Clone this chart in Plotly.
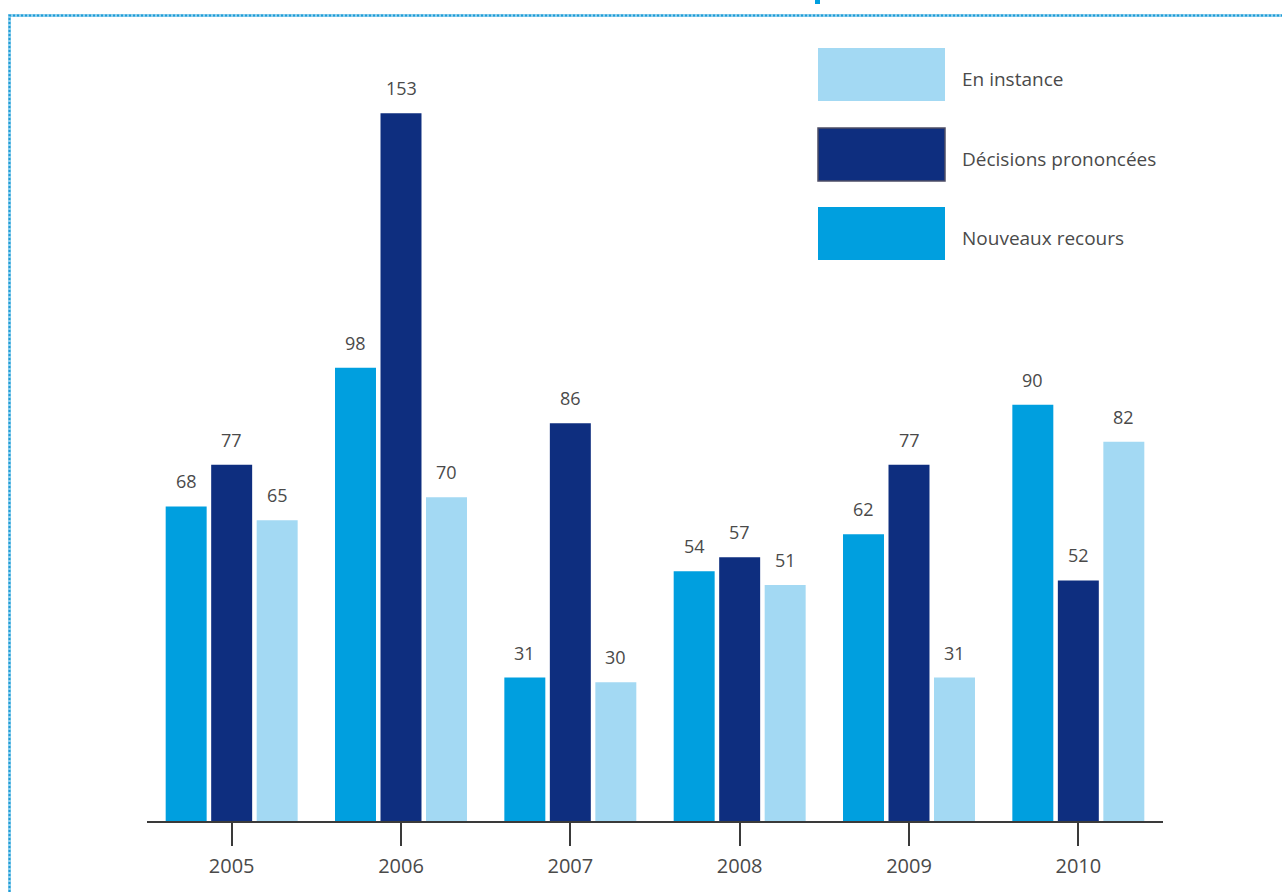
import plotly.graph_objects as go

# Values per year
years = ["2005", "2006", "2007", "2008", "2009", "2010"]
nouveaux_recours = [68, 98, 31, 54, 62, 90]
decisions_prononcees = [77, 153, 86, 57, 77, 52]
en_instance = [65, 70, 30, 51, 31, 82]

series_names = ["Nouveaux recours", "Décisions prononcées", "En instance"]
series_colors = ["#009fdf", "#0e2e7f", "#a3d9f3"]
series_values = [nouveaux_recours, decisions_prononcees, en_instance]

W, H = 1282, 892
L, R, T, B = 147, 119, 30, 71
PW, PH = W - L - R, H - T - B
Y_MAX = 171.0

def px_x(p):
    return (p - L) / PW

def px_y(p):
    return (H - B - p) / PH

FONT = "Open Sans"
TEXT_COLOR = "#4a4a4a"

fig = go.Figure()

offsets = [-0.2687, 0.0, 0.2687]
bar_w = 0.242
for name, color, vals, off in zip(series_names, series_colors, series_values, offsets):
    xs = [i + off for i in range(len(years))]
    fig.add_trace(go.Bar(
        x=xs, y=vals, width=bar_w, name=name,
        marker=dict(color=color, line=dict(width=0)),
        showlegend=False, hoverinfo="skip",
    ))
    for x, v in zip(xs, vals):
        fig.add_annotation(
            x=x, y=v, xref="x", yref="y", text=str(v), showarrow=False,
            yanchor="bottom", yshift=11,
            font=dict(family=FONT, size=18, color=TEXT_COLOR),
        )

shapes = []
# Dotted frame (top and left edges)
frame_path = "M {x0},{y0} L {x0},{y1} L {x2},{y1}".format(
    x0=px_x(9.5), y0=px_y(900), y1=px_y(15.5), x2=px_x(1290))
shapes.append(dict(type="path", xref="paper", yref="paper", path=frame_path,
                   line=dict(color="#8fd0ee", width=3)))
shapes.append(dict(type="path", xref="paper", yref="paper", path=frame_path,
                   line=dict(color="#1f9bd5", width=2, dash="2px,2px")))
# Small mark at the top edge
shapes.append(dict(type="rect", xref="paper", yref="paper",
                   x0=px_x(815), x1=px_x(820), y0=px_y(4), y1=px_y(-2),
                   fillcolor="#009fdf", line=dict(width=0)))

# Legend boxes and labels
legend_rows = [("En instance", "#a3d9f3", 48, 101),
               ("Décisions prononcées", "#0e2e7f", 128, 181),
               ("Nouveaux recours", "#009fdf", 207, 260)]
for label, color, top, bottom in legend_rows:
    line = dict(width=1.5, color="#4d4d66") if color == "#0e2e7f" else dict(width=0)
    shapes.append(dict(type="rect", xref="paper", yref="paper",
                       x0=px_x(818), x1=px_x(945), y0=px_y(bottom), y1=px_y(top),
                       fillcolor=color, line=line))
    fig.add_annotation(x=px_x(960), y=px_y((top + bottom) / 2 + 4), xref="paper", yref="paper",
                       text=label, showarrow=False, xanchor="left", yanchor="middle",
                       font=dict(family=FONT, size=19, color=TEXT_COLOR))

fig.update_layout(
    width=W, height=H,
    margin=dict(l=L, r=R, t=T, b=B),
    plot_bgcolor="white", paper_bgcolor="white",
    shapes=shapes,
    xaxis=dict(range=[-0.5, 5.5], tickvals=list(range(len(years))), ticktext=years,
               showline=True, linecolor="#3a3a3a", linewidth=2,
               ticks="outside", ticklen=23, tickwidth=2, tickcolor="#3a3a3a",
               ticklabelstandoff=3,
               showgrid=False, zeroline=False,
               tickfont=dict(family=FONT, size=20, color=TEXT_COLOR)),
    yaxis=dict(range=[0, Y_MAX], visible=False, showgrid=False, zeroline=False),
)

fig.write_html("out.html")
